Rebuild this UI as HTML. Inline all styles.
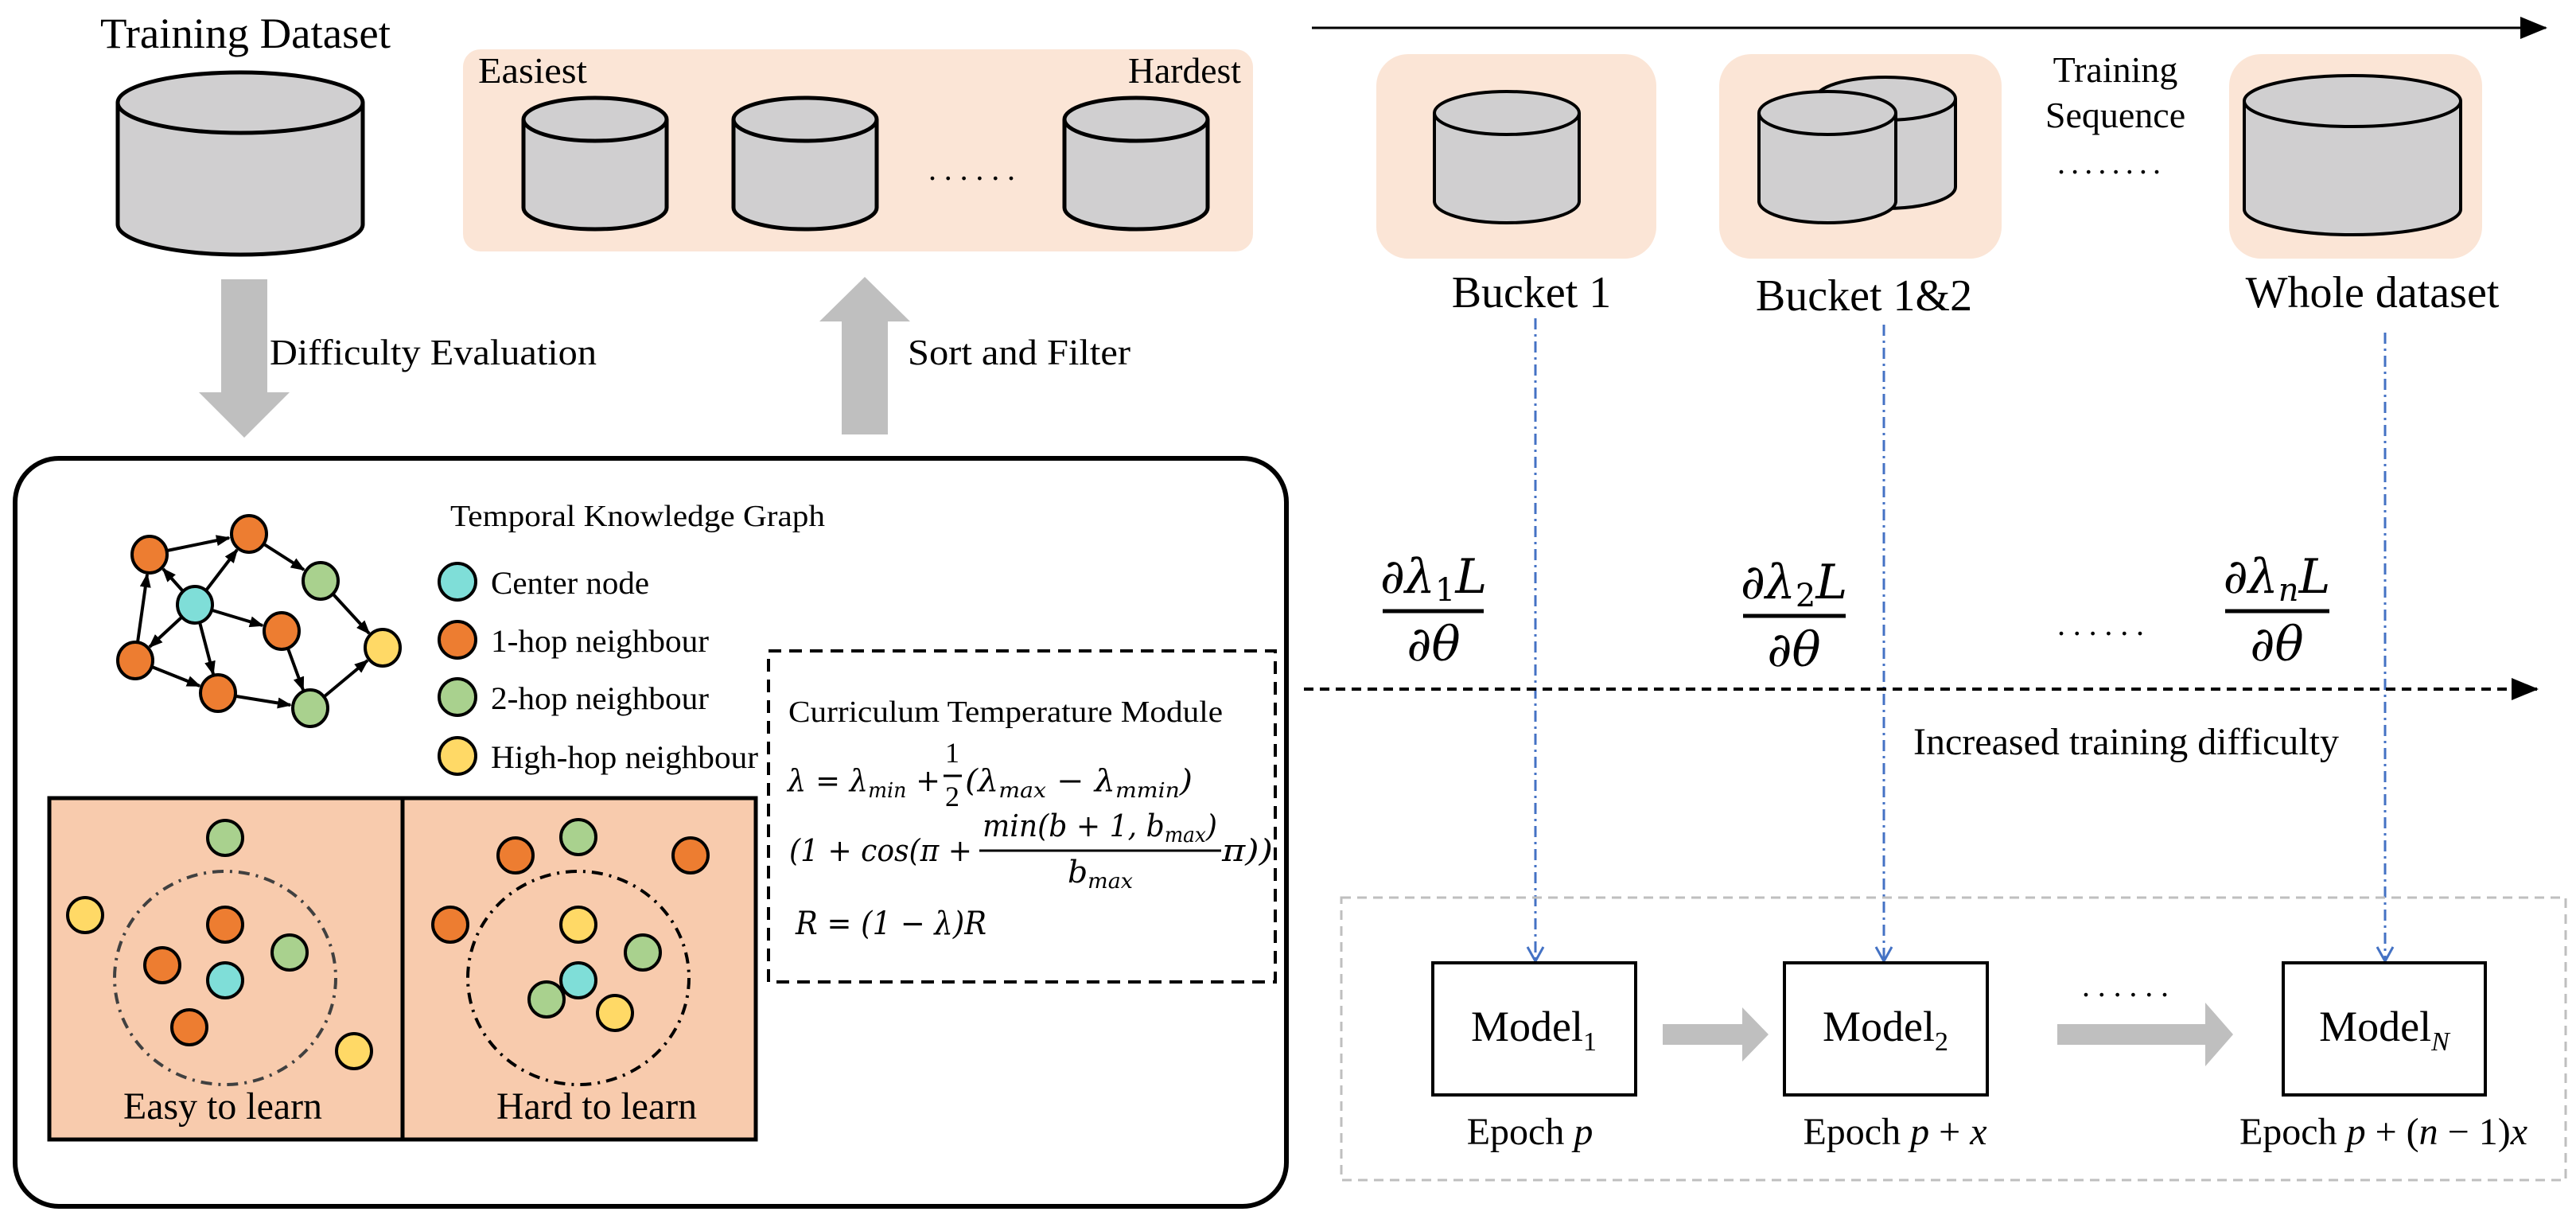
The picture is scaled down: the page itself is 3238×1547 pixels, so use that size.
<!DOCTYPE html>
<html><head><meta charset="utf-8"><style>
html,body{margin:0;padding:0;background:#fff;}
svg{display:block;}
text{font-family:"Liberation Serif",serif;fill:#000;}
.m{font-family:"DejaVu Serif","Liberation Serif",serif;font-style:italic;}
</style></head><body>
<svg width="3238" height="1547" viewBox="0 0 3238 1547" xmlns="http://www.w3.org/2000/svg">
<defs>
<marker id="ah" markerWidth="18" markerHeight="14" refX="16" refY="7" orient="auto" markerUnits="userSpaceOnUse"><path d="M0,0 L18,7 L0,14 Z" fill="#000"/></marker>
<marker id="big" markerWidth="34" markerHeight="28" refX="32" refY="14" orient="auto" markerUnits="userSpaceOnUse"><path d="M0,0 L34,14 L0,28 Z" fill="#000"/></marker>
</defs>

<!-- Training dataset -->
<text x="126" y="60" font-size="54" textLength="365" lengthAdjust="spacingAndGlyphs">Training Dataset</text>
<g fill="#d0cfd0" stroke="#000" stroke-width="5">
<path d="M148,129 V282 A154,38 0 0 0 456,282 V129"/>
<ellipse cx="302" cy="129" rx="154" ry="38"/>
</g>

<!-- Sorted buckets -->
<rect x="582" y="62" width="993" height="254" rx="22" fill="#fbe5d6"/>
<text x="601" y="104" font-size="46" textLength="137" lengthAdjust="spacingAndGlyphs">Easiest</text>
<text x="1418" y="104" font-size="46" textLength="142" lengthAdjust="spacingAndGlyphs">Hardest</text>
<g fill="#d0cfd0" stroke="#000" stroke-width="5">
<path d="M658,150 V261 A90,27 0 0 0 838,261 V150"/><ellipse cx="748" cy="150" rx="90" ry="27"/>
<path d="M922,150 V261 A90,27 0 0 0 1102,261 V150"/><ellipse cx="1012" cy="150" rx="90" ry="27"/>
<path d="M1338,150 V261 A90,27 0 0 0 1518,261 V150"/><ellipse cx="1428" cy="150" rx="90" ry="27"/>
</g>
<text x="1167" y="226" font-size="40" textLength="109" lengthAdjust="spacing">......</text>

<!-- Arrows -->
<path d="M278,351 H336 V493 H364 L307,550 L250,493 H278 Z" fill="#bfbfbf"/>
<text x="339" y="458" font-size="46" textLength="411" lengthAdjust="spacingAndGlyphs">Difficulty Evaluation</text>
<path d="M1058,546 H1116 V404 H1144 L1087,348 L1030,404 H1058 Z" fill="#bfbfbf"/>
<text x="1141" y="458" font-size="46" textLength="280" lengthAdjust="spacingAndGlyphs">Sort and Filter</text>

<!-- Big rounded box -->
<rect x="19" y="576" width="1598" height="940" rx="55" fill="none" stroke="#000" stroke-width="6"/>
<text x="566" y="661" font-size="38" textLength="471" lengthAdjust="spacingAndGlyphs">Temporal Knowledge Graph</text>

<!-- Graph edges -->
<g stroke="#000" stroke-width="4" marker-end="url(#ah)">
<line x1="210" y1="692" x2="288" y2="676"/>
<line x1="332" y1="684" x2="382" y2="716"/>
<line x1="419" y1="747" x2="464" y2="796"/>
<line x1="230" y1="743" x2="205" y2="715"/>
<line x1="259" y1="742" x2="298" y2="691"/>
<line x1="267" y1="767" x2="330" y2="786"/>
<line x1="228" y1="776" x2="188" y2="813"/>
<line x1="251" y1="782" x2="268" y2="847"/>
<line x1="173" y1="807" x2="185" y2="722"/>
<line x1="191" y1="838" x2="251" y2="862"/>
<line x1="362" y1="815" x2="381" y2="867"/>
<line x1="297" y1="875" x2="365" y2="886"/>
<line x1="408" y1="875" x2="462" y2="830"/>
</g>
<g stroke="#000" stroke-width="4">
<ellipse cx="188" cy="697" rx="22" ry="23" fill="#ed7d31"/>
<ellipse cx="313" cy="671" rx="22" ry="23" fill="#ed7d31"/>
<ellipse cx="403" cy="730" rx="22" ry="23" fill="#a9d18e"/>
<ellipse cx="245" cy="760" rx="22" ry="23" fill="#7fded8"/>
<ellipse cx="354" cy="793" rx="22" ry="23" fill="#ed7d31"/>
<ellipse cx="481" cy="814" rx="22" ry="23" fill="#ffd966"/>
<ellipse cx="170" cy="830" rx="22" ry="23" fill="#ed7d31"/>
<ellipse cx="274" cy="871" rx="22" ry="23" fill="#ed7d31"/>
<ellipse cx="390" cy="890" rx="22" ry="23" fill="#a9d18e"/>
</g>

<!-- Legend -->
<g stroke="#000" stroke-width="4">
<ellipse cx="575" cy="731" rx="23" ry="23" fill="#7fded8"/>
<ellipse cx="575" cy="804" rx="23" ry="23" fill="#ed7d31"/>
<ellipse cx="575" cy="876" rx="23" ry="23" fill="#a9d18e"/>
<ellipse cx="575" cy="950" rx="23" ry="23" fill="#ffd966"/>
</g>
<text x="617" y="746" font-size="40" textLength="199" lengthAdjust="spacingAndGlyphs">Center node</text>
<text x="617" y="819" font-size="40" textLength="274" lengthAdjust="spacingAndGlyphs">1-hop neighbour</text>
<text x="617" y="891" font-size="40" textLength="274" lengthAdjust="spacingAndGlyphs">2-hop neighbour</text>
<text x="617" y="965" font-size="40" textLength="336" lengthAdjust="spacingAndGlyphs">High-hop neighbour</text>

<!-- Easy / Hard boxes -->
<rect x="62" y="1003" width="444" height="429" fill="#f8cbad" stroke="#000" stroke-width="5"/>
<rect x="506" y="1003" width="444" height="429" fill="#f8cbad" stroke="#000" stroke-width="5"/>
<ellipse cx="283" cy="1229" rx="139" ry="134" fill="none" stroke="#404040" stroke-width="4" stroke-dasharray="14,8,3,8"/>
<ellipse cx="727" cy="1229" rx="139" ry="134" fill="none" stroke="#000" stroke-width="4" stroke-dasharray="14,8,3,8"/>
<g stroke="#000" stroke-width="4">
<ellipse cx="283" cy="1053" rx="22" ry="22" fill="#a9d18e"/>
<ellipse cx="107" cy="1150" rx="22" ry="22" fill="#ffd966"/>
<ellipse cx="283" cy="1162" rx="22" ry="22" fill="#ed7d31"/>
<ellipse cx="364" cy="1197" rx="22" ry="22" fill="#a9d18e"/>
<ellipse cx="204" cy="1213" rx="22" ry="22" fill="#ed7d31"/>
<ellipse cx="283" cy="1232" rx="22" ry="22" fill="#7fded8"/>
<ellipse cx="238" cy="1291" rx="22" ry="22" fill="#ed7d31"/>
<ellipse cx="445" cy="1321" rx="22" ry="22" fill="#ffd966"/>
<ellipse cx="648" cy="1075" rx="22" ry="22" fill="#ed7d31"/>
<ellipse cx="727" cy="1052" rx="22" ry="22" fill="#a9d18e"/>
<ellipse cx="868" cy="1075" rx="22" ry="22" fill="#ed7d31"/>
<ellipse cx="566" cy="1162" rx="22" ry="22" fill="#ed7d31"/>
<ellipse cx="727" cy="1162" rx="22" ry="22" fill="#ffd966"/>
<ellipse cx="808" cy="1197" rx="22" ry="22" fill="#a9d18e"/>
<ellipse cx="687" cy="1256" rx="22" ry="22" fill="#a9d18e"/>
<ellipse cx="727" cy="1232" rx="22" ry="22" fill="#7fded8"/>
<ellipse cx="773" cy="1273" rx="22" ry="22" fill="#ffd966"/>
</g>
<text x="155" y="1406" font-size="48" textLength="250" lengthAdjust="spacingAndGlyphs">Easy to learn</text>
<text x="624" y="1406" font-size="48" textLength="252" lengthAdjust="spacingAndGlyphs">Hard to learn</text>

<!-- Curriculum module -->
<rect x="966" y="818" width="637" height="416" fill="none" stroke="#000" stroke-width="4" stroke-dasharray="16,10"/>
<text x="991" y="907" font-size="38" textLength="546" lengthAdjust="spacingAndGlyphs">Curriculum Temperature Module</text>
<text class="m" x="990" y="994" font-size="38" textLength="192" lengthAdjust="spacingAndGlyphs">λ = λ<tspan font-size="26" dy="8">min</tspan><tspan dy="-8"> +</tspan></text>
<text x="1197" y="958" font-size="36" text-anchor="middle">1</text>
<line x1="1186" y1="975" x2="1209" y2="975" stroke="#000" stroke-width="3"/>
<text x="1197" y="1013" font-size="36" text-anchor="middle">2</text>
<text class="m" x="1213" y="994" font-size="38" textLength="286" lengthAdjust="spacingAndGlyphs">(λ<tspan font-size="26" dy="8">max</tspan><tspan dy="-8"> − λ</tspan><tspan font-size="26" dy="8">mmin</tspan><tspan dy="-8">)</tspan></text>
<text class="m" x="992" y="1082" font-size="38" textLength="230" lengthAdjust="spacingAndGlyphs">(1 + cos(π +</text>
<line x1="1231" y1="1069" x2="1535" y2="1069" stroke="#000" stroke-width="3"/>
<text class="m" x="1235" y="1051" font-size="38" textLength="295" lengthAdjust="spacingAndGlyphs">min(b + 1, b<tspan font-size="26" dy="7">max</tspan><tspan dy="-7">)</tspan></text>
<text class="m" x="1342" y="1109" font-size="38" textLength="82" lengthAdjust="spacingAndGlyphs">b<tspan font-size="26" dy="7">max</tspan></text>
<text class="m" x="1536" y="1082" font-size="38" textLength="64" lengthAdjust="spacingAndGlyphs">π))</text>
<text class="m" x="1000" y="1174" font-size="40" textLength="240" lengthAdjust="spacingAndGlyphs">R = (1 − λ)R</text>

<!-- Right side -->
<line x1="1649" y1="35" x2="3200" y2="35" stroke="#000" stroke-width="3" marker-end="url(#big)"/>
<rect x="1730" y="68" width="352" height="257" rx="40" fill="#fbe5d6"/>
<rect x="2161" y="68" width="355" height="257" rx="40" fill="#fbe5d6"/>
<rect x="2802" y="68" width="318" height="257" rx="40" fill="#fbe5d6"/>
<g fill="#d0cfd0" stroke="#000" stroke-width="4">
<path d="M1803,142 V253 A91,27 0 0 0 1985,253 V142"/><ellipse cx="1894" cy="142" rx="91" ry="27"/>
<path d="M2282,124 V235 A88,27 0 0 0 2458,235 V124"/><ellipse cx="2370" cy="124" rx="88" ry="27"/>
<path d="M2211,142 V253 A86,27 0 0 0 2383,253 V142"/><ellipse cx="2297" cy="142" rx="86" ry="27"/>
<path d="M2821,127 V263 A136,32 0 0 0 3093,263 V127"/><ellipse cx="2957" cy="127" rx="136" ry="32"/>
</g>
<text x="2659" y="103" font-size="46" text-anchor="middle">Training</text>
<text x="2659" y="160" font-size="46" text-anchor="middle">Sequence</text>
<text x="2586" y="218" font-size="40" textLength="130" lengthAdjust="spacing">........</text>
<text x="1925" y="386" font-size="56" text-anchor="middle">Bucket 1</text>
<text x="2343" y="390" font-size="56" text-anchor="middle">Bucket 1&amp;2</text>
<text x="2982" y="386" font-size="56" text-anchor="middle">Whole dataset</text>

<!-- Blue dash-dot lines -->
<g stroke="#4472c4" stroke-width="3" stroke-dasharray="14,6,3,6" fill="none">
<line x1="1930" y1="400" x2="1930" y2="1206"/>
<line x1="2368" y1="408" x2="2368" y2="1206"/>
<line x1="2998" y1="418" x2="2998" y2="1206"/>
</g>
<g stroke="#4472c4" stroke-width="3" fill="none">
<path d="M1920,1190 L1930,1208 L1940,1190"/>
<path d="M2358,1190 L2368,1208 L2378,1190"/>
<path d="M2988,1190 L2998,1208 L3008,1190"/>
</g>

<!-- Fractions -->
<text class="m" x="1802" y="745" font-size="60" text-anchor="middle">∂λ<tspan font-size="40" dy="10" font-style="normal">1</tspan><tspan dy="-10">L</tspan></text>
<text class="m" x="1802" y="830" font-size="60" text-anchor="middle">∂θ</text>
<text class="m" x="2255" y="752" font-size="60" text-anchor="middle">∂λ<tspan font-size="40" dy="10" font-style="normal">2</tspan><tspan dy="-10">L</tspan></text>
<text class="m" x="2255" y="837" font-size="60" text-anchor="middle">∂θ</text>
<text class="m" x="2862" y="745" font-size="60" text-anchor="middle">∂λ<tspan font-size="40" dy="10">n</tspan><tspan dy="-10">L</tspan></text>
<text class="m" x="2862" y="830" font-size="60" text-anchor="middle">∂θ</text>
<line x1="1738" y1="768" x2="1865" y2="768" stroke="#000" stroke-width="5"/>
<line x1="2191" y1="774" x2="2320" y2="774" stroke="#000" stroke-width="5"/>
<line x1="2797" y1="768" x2="2928" y2="768" stroke="#000" stroke-width="5"/>
<text x="2586" y="798" font-size="40" textLength="109" lengthAdjust="spacing">......</text>

<line x1="1639" y1="866" x2="3189" y2="866" stroke="#000" stroke-width="4" stroke-dasharray="12,8" marker-end="url(#big)"/>
<text x="2405" y="948" font-size="48" textLength="535" lengthAdjust="spacingAndGlyphs">Increased training difficulty</text>

<!-- Models -->
<rect x="1686" y="1128" width="1539" height="355" fill="none" stroke="#bfbfbf" stroke-width="3" stroke-dasharray="12,8"/>
<g fill="#fff" stroke="#000" stroke-width="4">
<rect x="1801" y="1210" width="255" height="166"/>
<rect x="2243" y="1210" width="255" height="166"/>
<rect x="2870" y="1210" width="254" height="166"/>
</g>
<text x="1928" y="1308" font-size="54" text-anchor="middle">Model<tspan font-size="34" dy="12">1</tspan></text>
<text x="2370" y="1308" font-size="54" text-anchor="middle">Model<tspan font-size="34" dy="12">2</tspan></text>
<text x="2997" y="1308" font-size="54" text-anchor="middle">Model<tspan font-size="34" dy="12" font-style="italic">N</tspan></text>
<path d="M2090,1287 H2190 V1266 L2223,1300 L2190,1334 V1313 H2090 Z" fill="#bfbfbf"/>
<path d="M2586,1287 H2772 V1260 L2807,1300 L2772,1340 V1313 H2586 Z" fill="#bfbfbf"/>
<text x="2617" y="1252" font-size="40" textLength="109" lengthAdjust="spacing">......</text>
<text x="1923" y="1438" font-size="48" text-anchor="middle">Epoch <tspan font-style="italic">p</tspan></text>
<text x="2382" y="1438" font-size="48" text-anchor="middle">Epoch <tspan font-style="italic">p</tspan> + <tspan font-style="italic">x</tspan></text>
<text x="2996" y="1438" font-size="48" text-anchor="middle">Epoch <tspan font-style="italic">p</tspan> + (<tspan font-style="italic">n</tspan> − 1)<tspan font-style="italic">x</tspan></text>
</svg>
</body></html>
